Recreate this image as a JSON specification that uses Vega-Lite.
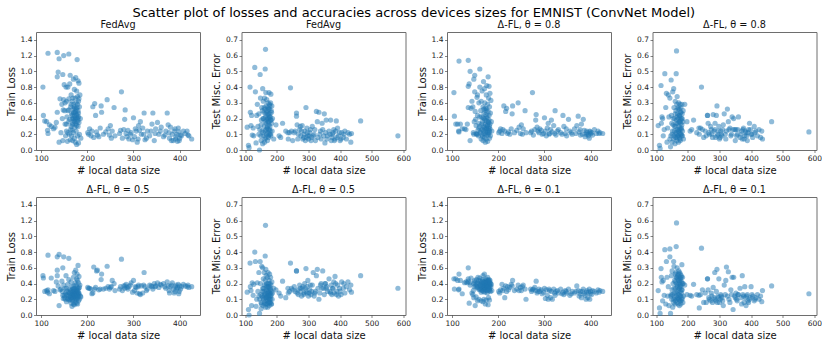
{"$schema":"https://vega.github.io/schema/vega-lite/v6.json","padding":{"left":5,"top":7,"right":0,"bottom":0},"background":"white","title":{"text":"Scatter plot of losses and accuracies across devices sizes for EMNIST (ConvNet Model)","font":"DejaVu Sans","fontSize":13,"fontWeight":"normal","color":"black","anchor":"middle","offset":-1,"frame":"bounds"},"datasets":{"train":[
{"s":104,"F":0.8,"A":0.73,"B":0.5,"C":0.46},{"s":105,"F":0.44,"A":0.43,"B":0.47,"C":0.33},{"s":108,"F":0.37,"A":0.33,"B":0.3,"C":0.46},{"s":112,"F":0.36,"A":0.33,"B":0.31,"C":0.44},{"s":115,"F":1.23,"A":1.13,"B":0.76,"C":0.52},{"s":114,"F":0.25,"A":0.24,"B":0.29,"C":0.32},{"s":115,"F":0.21,"A":0.23,"B":0.32,"C":0.33},{"s":118,"F":0.32,"A":0.33,"B":0.27,"C":0.44},{"s":122,"F":0.3,"A":0.27,"B":0.47,"C":0.27},{"s":127,"F":0.27,"A":0.27,"B":0.31,"C":0.41},{"s":130,"F":0.29,"A":0.26,"B":0.3,"C":0.42},{"s":133,"F":0.35,"A":0.33,"B":0.42,"C":0.41},{"s":135,"F":1.24,"A":1.14,"B":0.74,"C":0.6},{"s":135,"F":0.93,"A":0.81,"B":0.57,"C":0.46},{"s":135,"F":0.48,"A":0.54,"B":0.5,"C":0.43},{"s":137,"F":0.99,"A":0.84,"B":0.37,"C":0.15},{"s":139,"F":1.16,"A":1.0,"B":0.77,"C":0.41},{"s":139,"F":0.1,"A":0.12,"B":0.12,"C":0.38},{"s":141,"F":0.65,"A":0.53,"B":0.32,"C":0.47},{"s":143,"F":0.22,"A":0.62,"B":0.33,"C":0.28},{"s":145,"F":0.58,"A":0.55,"B":0.43,"C":0.26},{"s":147,"F":0.96,"A":0.9,"B":0.6,"C":0.22},{"s":147,"F":0.12,"A":0.2,"B":0.25,"C":0.4},{"s":149,"F":1.2,"A":0.95,"B":0.74,"C":0.44},{"s":149,"F":0.64,"A":0.74,"B":0.38,"C":0.42},{"s":150,"F":0.83,"A":0.49,"B":0.25,"C":0.12},{"s":151,"F":0.5,"A":0.39,"B":0.22,"C":0.37},{"s":152,"F":0.33,"A":0.31,"B":0.2,"C":0.23},{"s":153,"F":0.18,"A":0.2,"B":0.28,"C":0.45},{"s":154,"F":0.8,"A":0.67,"B":0.5,"C":0.35},{"s":155,"F":0.62,"A":0.44,"B":0.34,"C":0.41},{"s":155,"F":0.24,"A":0.7,"B":0.17,"C":0.18},{"s":156,"F":0.42,"A":0.25,"B":0.3,"C":0.48},{"s":157,"F":0.11,"A":0.18,"B":0.25,"C":0.33},{"s":158,"F":0.8,"A":0.6,"B":0.39,"C":0.4},{"s":158,"F":0.5,"A":0.34,"B":0.21,"C":0.2},{"s":160,"F":1.22,"A":1.03,"B":0.72,"C":0.38},{"s":160,"F":0.36,"A":0.3,"B":0.29,"C":0.32},{"s":160,"F":0.65,"A":0.8,"B":0.45,"C":0.47},{"s":161,"F":0.2,"A":0.22,"B":0.19,"C":0.43},{"s":162,"F":0.84,"A":0.5,"B":0.33,"C":0.36},{"s":163,"F":0.95,"A":0.62,"B":0.24,"C":0.29},{"s":163,"F":0.13,"A":0.14,"B":0.2,"C":0.18},{"s":164,"F":0.55,"A":0.42,"B":0.31,"C":0.41},{"s":165,"F":0.3,"A":0.26,"B":0.15,"C":0.35},{"s":165,"F":0.7,"A":0.75,"B":0.42,"C":0.31},{"s":166,"F":0.46,"A":0.36,"B":0.27,"C":0.45},{"s":166,"F":0.18,"A":0.17,"B":0.22,"C":0.39},{"s":167,"F":0.62,"A":0.55,"B":0.36,"C":0.5},{"s":167,"F":0.25,"A":0.12,"B":0.11,"C":0.17},{"s":168,"F":0.4,"A":0.3,"B":0.26,"C":0.34},{"s":168,"F":0.12,"A":0.87,"B":0.18,"C":0.42},{"s":169,"F":0.52,"A":0.47,"B":0.33,"C":0.2},{"s":169,"F":0.34,"A":0.21,"B":0.24,"C":0.37},{"s":170,"F":0.9,"A":0.78,"B":0.48,"C":0.52},{"s":170,"F":0.47,"A":0.4,"B":0.3,"C":0.4},{"s":170,"F":0.22,"A":0.16,"B":0.14,"C":0.33},{"s":171,"F":0.58,"A":0.6,"B":0.37,"C":0.43},{"s":171,"F":0.37,"A":0.27,"B":0.27,"C":0.29},{"s":172,"F":0.77,"A":0.53,"B":0.54,"C":0.38},{"s":172,"F":0.43,"A":0.33,"B":0.23,"C":0.14},{"s":172,"F":0.15,"A":0.1,"B":0.13,"C":0.41},{"s":173,"F":0.53,"A":0.45,"B":0.34,"C":0.36},{"s":173,"F":0.29,"A":0.23,"B":0.19,"C":0.46},{"s":174,"F":0.66,"A":0.7,"B":0.41,"C":0.31},{"s":174,"F":0.39,"A":0.37,"B":0.28,"C":0.39},{"s":174,"F":0.1,"A":0.14,"B":0.16,"C":0.19},{"s":175,"F":0.92,"A":0.82,"B":0.57,"C":0.42},{"s":175,"F":0.49,"A":0.52,"B":0.31,"C":0.35},{"s":175,"F":0.33,"A":0.28,"B":0.22,"C":0.44},{"s":176,"F":0.6,"A":0.41,"B":0.38,"C":0.37},{"s":176,"F":0.24,"A":0.19,"B":0.25,"C":0.28},{"s":177,"F":0.75,"A":0.58,"B":0.46,"C":0.41},{"s":177,"F":0.44,"A":0.32,"B":0.29,"C":0.48},{"s":177,"F":0.07,"A":0.11,"B":0.15,"C":0.34},{"s":178,"F":1.15,"A":0.93,"B":0.52,"C":0.39},{"s":178,"F":0.54,"A":0.49,"B":0.35,"C":0.13},{"s":178,"F":0.36,"A":0.25,"B":0.21,"C":0.43},{"s":179,"F":0.68,"A":0.66,"B":0.44,"C":0.36},{"s":179,"F":0.41,"A":0.35,"B":0.27,"C":0.22},{"s":179,"F":0.18,"A":0.2,"B":0.14,"C":0.4},{"s":180,"F":0.88,"A":0.81,"B":0.63,"C":0.45},{"s":180,"F":0.5,"A":0.38,"B":0.32,"C":0.33},{"s":180,"F":0.3,"A":0.22,"B":0.24,"C":0.38},{"s":181,"F":0.62,"A":0.55,"B":0.41,"C":0.42},{"s":181,"F":0.42,"A":0.3,"B":0.28,"C":0.31},{"s":181,"F":0.09,"A":0.15,"B":0.18,"C":0.19},{"s":182,"F":0.85,"A":0.72,"B":0.49,"C":0.37},{"s":182,"F":0.35,"A":0.27,"B":0.26,"C":0.44},{"s":183,"F":0.55,"A":0.47,"B":0.35,"C":0.4},{"s":183,"F":0.2,"A":0.18,"B":0.2,"C":0.3},{"s":184,"F":0.7,"A":0.63,"B":0.38,"C":0.36},{"s":185,"F":0.4,"A":0.36,"B":0.24,"C":0.39},{"s":186,"F":0.15,"A":0.24,"B":0.23,"C":0.31},
{"s":146,"F":0.4,"A":0.22,"B":0.3,"C":0.31},{"s":148,"F":0.51,"A":0.36,"B":0.21,"C":0.36},{"s":152,"F":0.6,"A":0.21,"B":0.34,"C":0.39},{"s":155,"F":0.33,"A":0.2,"B":0.26,"C":0.36},{"s":158,"F":0.22,"A":0.28,"B":0.2,"C":0.44},{"s":160,"F":0.51,"A":0.42,"B":0.24,"C":0.34},{"s":162,"F":0.39,"A":0.24,"B":0.28,"C":0.38},{"s":164,"F":0.26,"A":0.33,"B":0.22,"C":0.32},{"s":165,"F":0.58,"A":0.19,"B":0.3,"C":0.43},{"s":167,"F":0.44,"A":0.41,"B":0.25,"C":0.37},{"s":168,"F":0.32,"A":0.24,"B":0.2,"C":0.3},{"s":169,"F":0.66,"A":0.52,"B":0.29,"C":0.41},{"s":170,"F":0.4,"A":0.29,"B":0.22,"C":0.36},{"s":171,"F":0.48,"A":0.38,"B":0.33,"C":0.32},{"s":172,"F":0.55,"A":0.2,"B":0.26,"C":0.35},{"s":173,"F":0.36,"A":0.5,"B":0.3,"C":0.41},{"s":174,"F":0.47,"A":0.26,"B":0.24,"C":0.33},{"s":175,"F":0.41,"A":0.43,"B":0.27,"C":0.38},{"s":176,"F":0.52,"A":0.31,"B":0.2,"C":0.42},{"s":177,"F":0.31,"A":0.22,"B":0.32,"C":0.31},{"s":178,"F":0.45,"A":0.36,"B":0.25,"C":0.35},{"s":179,"F":0.58,"A":0.28,"B":0.3,"C":0.44},{"s":180,"F":0.38,"A":0.44,"B":0.23,"C":0.37},{"s":181,"F":0.47,"A":0.24,"B":0.34,"C":0.33},{"s":182,"F":0.65,"A":0.33,"B":0.28,"C":0.41},
{"s":203,"F":0.2,"A":0.24,"B":0.34,"C":0.28},{"s":225,"F":0.17,"A":0.2,"B":0.32,"C":0.35},{"s":240,"F":0.23,"A":0.25,"B":0.34,"C":0.33},{"s":252,"F":0.15,"A":0.2,"B":0.36,"C":0.36},{"s":270,"F":0.21,"A":0.22,"B":0.33,"C":0.33},{"s":279,"F":0.26,"A":0.26,"B":0.37,"C":0.35},{"s":286,"F":0.17,"A":0.24,"B":0.35,"C":0.3},{"s":293,"F":0.2,"A":0.25,"B":0.38,"C":0.32},{"s":298,"F":0.13,"A":0.21,"B":0.29,"C":0.29},{"s":306,"F":0.24,"A":0.28,"B":0.35,"C":0.25},{"s":310,"F":0.14,"A":0.2,"B":0.36,"C":0.33},{"s":313,"F":0.25,"A":0.26,"B":0.27,"C":0.22},{"s":322,"F":0.2,"A":0.21,"B":0.38,"C":0.28},{"s":328,"F":0.15,"A":0.24,"B":0.31,"C":0.31},{"s":338,"F":0.24,"A":0.2,"B":0.37,"C":0.27},{"s":347,"F":0.21,"A":0.27,"B":0.36,"C":0.3},{"s":358,"F":0.24,"A":0.22,"B":0.39,"C":0.27},{"s":368,"F":0.19,"A":0.21,"B":0.36,"C":0.3},{"s":377,"F":0.22,"A":0.26,"B":0.31,"C":0.27},{"s":382,"F":0.12,"A":0.2,"B":0.38,"C":0.3},{"s":388,"F":0.24,"A":0.17,"B":0.28,"C":0.25},{"s":391,"F":0.14,"A":0.24,"B":0.36,"C":0.29},{"s":394,"F":0.2,"A":0.2,"B":0.33,"C":0.22},{"s":397,"F":0.28,"A":0.15,"B":0.39,"C":0.33},{"s":399,"F":0.12,"A":0.23,"B":0.3,"C":0.27},{"s":404,"F":0.18,"A":0.19,"B":0.36,"C":0.31},
{"s":201,"F":0.22,"A":0.22,"B":0.35,"C":0.3},{"s":205,"F":0.27,"A":0.27,"B":0.34,"C":0.32},{"s":208,"F":0.18,"A":0.21,"B":0.33,"C":0.39},{"s":210,"F":0.24,"A":0.26,"B":0.27,"C":0.31},{"s":212,"F":0.55,"A":0.56,"B":0.28,"C":0.34},{"s":214,"F":0.16,"A":0.24,"B":0.61,"C":0.22},{"s":216,"F":0.59,"A":0.49,"B":0.33,"C":0.37},{"s":218,"F":0.44,"A":0.53,"B":0.35,"C":0.3},{"s":220,"F":0.23,"A":0.21,"B":0.56,"C":0.36},{"s":222,"F":0.19,"A":0.23,"B":0.57,"C":0.32},{"s":228,"F":0.28,"A":0.27,"B":0.33,"C":0.39},{"s":230,"F":0.56,"A":0.46,"B":0.45,"C":0.37},{"s":231,"F":0.48,"A":0.56,"B":0.52,"C":0.44},{"s":235,"F":0.2,"A":0.22,"B":0.33,"C":0.31},{"s":243,"F":0.64,"A":0.6,"B":0.62,"C":0.38},{"s":245,"F":0.27,"A":0.29,"B":0.36,"C":0.31},{"s":248,"F":0.19,"A":0.21,"B":0.33,"C":0.35},{"s":250,"F":0.31,"A":0.32,"B":0.35,"C":0.31},{"s":254,"F":0.24,"A":0.27,"B":0.44,"C":0.38},{"s":258,"F":0.54,"A":0.5,"B":0.4,"C":0.33},{"s":260,"F":0.18,"A":0.22,"B":0.31,"C":0.2},{"s":274,"F":0.74,"A":0.73,"B":0.71,"C":0.32},{"s":272,"F":0.25,"A":0.24,"B":0.36,"C":0.3},{"s":276,"F":0.15,"A":0.19,"B":0.31,"C":0.33},{"s":281,"F":0.39,"A":0.38,"B":0.34,"C":0.31},{"s":282,"F":0.51,"A":0.45,"B":0.37,"C":0.43},{"s":284,"F":0.21,"A":0.29,"B":0.39,"C":0.28},{"s":288,"F":0.25,"A":0.22,"B":0.33,"C":0.33},{"s":290,"F":0.14,"A":0.27,"B":0.36,"C":0.3},{"s":295,"F":0.22,"A":0.2,"B":0.41,"C":0.27},{"s":300,"F":0.41,"A":0.41,"B":0.44,"C":0.34},{"s":302,"F":0.17,"A":0.24,"B":0.31,"C":0.21},{"s":304,"F":0.27,"A":0.18,"B":0.36,"C":0.32},{"s":308,"F":0.1,"A":0.34,"B":0.28,"C":0.2},{"s":311,"F":0.31,"A":0.21,"B":0.38,"C":0.31},{"s":315,"F":0.36,"A":0.38,"B":0.26,"C":0.3},{"s":317,"F":0.2,"A":0.23,"B":0.37,"C":0.2},{"s":320,"F":0.28,"A":0.31,"B":0.28,"C":0.33},{"s":323,"F":0.47,"A":0.5,"B":0.54,"C":0.25},{"s":325,"F":0.13,"A":0.19,"B":0.36,"C":0.3},{"s":330,"F":0.24,"A":0.26,"B":0.33,"C":0.28},{"s":335,"F":0.18,"A":0.22,"B":0.38,"C":0.33},{"s":340,"F":0.33,"A":0.44,"B":0.36,"C":0.29},{"s":342,"F":0.47,"A":0.3,"B":0.33,"C":0.26},{"s":345,"F":0.12,"A":0.21,"B":0.4,"C":0.31},{"s":348,"F":0.27,"A":0.18,"B":0.37,"C":0.28},{"s":352,"F":0.35,"A":0.39,"B":0.41,"C":0.33},{"s":355,"F":0.2,"A":0.24,"B":0.35,"C":0.25},{"s":360,"F":0.29,"A":0.2,"B":0.38,"C":0.3},{"s":365,"F":0.17,"A":0.27,"B":0.4,"C":0.28},{"s":370,"F":0.24,"A":0.31,"B":0.34,"C":0.37},{"s":373,"F":0.47,"A":0.43,"B":0.42,"C":0.31},{"s":375,"F":0.32,"A":0.23,"B":0.37,"C":0.24},{"s":378,"F":0.15,"A":0.19,"B":0.28,"C":0.3},{"s":380,"F":0.29,"A":0.33,"B":0.36,"C":0.22},{"s":384,"F":0.2,"A":0.39,"B":0.41,"C":0.33},{"s":386,"F":0.12,"A":0.25,"B":0.33,"C":0.27},{"s":390,"F":0.27,"A":0.2,"B":0.3,"C":0.2},{"s":392,"F":0.17,"A":0.22,"B":0.38,"C":0.31},{"s":395,"F":0.11,"A":0.18,"B":0.35,"C":0.29},{"s":398,"F":0.23,"A":0.24,"B":0.27,"C":0.2},{"s":400,"F":0.15,"A":0.21,"B":0.37,"C":0.3},{"s":402,"F":0.19,"A":0.22,"B":0.33,"C":0.26},{"s":408,"F":0.24,"A":0.26,"B":0.39,"C":0.3},{"s":412,"F":0.21,"A":0.21,"B":0.37,"C":0.28},{"s":416,"F":0.24,"A":0.24,"B":0.36,"C":0.32},{"s":418,"F":0.19,"A":0.21,"B":0.38,"C":0.29},{"s":420,"F":0.18,"A":0.22,"B":0.35,"C":0.31},{"s":426,"F":0.14,"A":0.21,"B":0.36,"C":0.3}
],"test":[
{"s":106,"F":0.145,"A":0.155,"B":0.145,"C":0.155},{"s":110,"F":0.03,"A":0.03,"B":0.035,"C":0.045},{"s":112,"F":0.015,"A":0.01,"B":0.0,"C":0.01},{"s":115,"F":0.4,"A":0.41,"B":0.33,"C":0.295},{"s":116,"F":0.24,"A":0.17,"B":0.18,"C":0.24},{"s":118,"F":0.155,"A":0.21,"B":0.155,"C":0.21},{"s":120,"F":0.22,"A":0.2,"B":0.06,"C":0.09},{"s":122,"F":0.095,"A":0.09,"B":0.205,"C":0.22},{"s":125,"F":0.14,"A":0.13,"B":0.125,"C":0.125},{"s":127,"F":0.09,"A":0.485,"B":0.195,"C":0.415},{"s":130,"F":0.525,"A":0.27,"B":0.4,"C":0.07},{"s":132,"F":0.37,"A":0.36,"B":0.34,"C":0.34},{"s":134,"F":0.045,"A":0.05,"B":0.055,"C":0.24},{"s":136,"F":0.22,"A":0.14,"B":0.1,"C":0.12},{"s":138,"F":0.29,"A":0.35,"B":0.205,"C":0.18},{"s":140,"F":0.15,"A":0.21,"B":0.15,"C":0.06},{"s":143,"F":0.1,"A":0.07,"B":0.27,"C":0.42},{"s":143,"F":0.23,"A":0.33,"B":0.12,"C":0.37},{"s":145,"F":0.0,"A":0.02,"B":0.01,"C":0.01},{"s":147,"F":0.48,"A":0.445,"B":0.34,"C":0.13},{"s":148,"F":0.33,"A":0.22,"B":0.2,"C":0.25},{"s":150,"F":0.16,"A":0.1,"B":0.08,"C":0.16},{"s":150,"F":0.06,"A":0.05,"B":0.04,"C":0.28},{"s":152,"F":0.27,"A":0.37,"B":0.31,"C":0.05},{"s":153,"F":0.12,"A":0.16,"B":0.12,"C":0.2},{"s":155,"F":0.39,"A":0.39,"B":0.3,"C":0.34},{"s":155,"F":0.04,"A":0.07,"B":0.17,"C":0.1},{"s":156,"F":0.2,"A":0.27,"B":0.06,"C":0.31},{"s":157,"F":0.31,"A":0.12,"B":0.23,"C":0.14},{"s":158,"F":0.09,"A":0.2,"B":0.1,"C":0.22},{"s":159,"F":0.24,"A":0.04,"B":0.15,"C":0.07},{"s":160,"F":0.15,"A":0.31,"B":0.27,"C":0.26},{"s":161,"F":0.33,"A":0.15,"B":0.19,"C":0.17},{"s":161,"F":0.05,"A":0.08,"B":0.08,"C":0.09},{"s":162,"F":0.26,"A":0.25,"B":0.13,"C":0.27},{"s":163,"F":0.515,"A":0.485,"B":0.375,"C":0.435},{"s":163,"F":0.12,"A":0.11,"B":0.22,"C":0.12},{"s":164,"F":0.64,"A":0.63,"B":0.57,"C":0.585},{"s":164,"F":0.21,"A":0.19,"B":0.05,"C":0.2},{"s":165,"F":0.365,"A":0.29,"B":0.29,"C":0.24},{"s":165,"F":0.08,"A":0.06,"B":0.11,"C":0.08},{"s":166,"F":0.28,"A":0.34,"B":0.16,"C":0.15},{"s":166,"F":0.17,"A":0.13,"B":0.25,"C":0.3},{"s":167,"F":0.1,"A":0.23,"B":0.07,"C":0.19},{"s":168,"F":0.24,"A":0.09,"B":0.2,"C":0.11},{"s":168,"F":0.32,"A":0.17,"B":0.12,"C":0.25},{"s":169,"F":0.14,"A":0.27,"B":0.18,"C":0.07},{"s":170,"F":0.2,"A":0.05,"B":0.09,"C":0.22},{"s":170,"F":0.06,"A":0.2,"B":0.24,"C":0.16},{"s":171,"F":0.27,"A":0.12,"B":0.14,"C":0.28},{"s":171,"F":0.11,"A":0.3,"B":0.05,"C":0.1},{"s":172,"F":0.18,"A":0.15,"B":0.17,"C":0.2},{"s":172,"F":0.3,"A":0.22,"B":0.27,"C":0.13},{"s":173,"F":0.23,"A":0.08,"B":0.11,"C":0.24},{"s":173,"F":0.13,"A":0.26,"B":0.2,"C":0.06},{"s":174,"F":0.08,"A":0.18,"B":0.08,"C":0.18},{"s":174,"F":0.2,"A":0.11,"B":0.15,"C":0.27},{"s":175,"F":0.365,"A":0.29,"B":0.22,"C":0.09},{"s":175,"F":0.16,"A":0.21,"B":0.13,"C":0.21},{"s":176,"F":0.26,"A":0.06,"B":0.06,"C":0.15},{"s":176,"F":0.1,"A":0.14,"B":0.18,"C":0.26},{"s":177,"F":0.21,"A":0.24,"B":0.1,"C":0.12},{"s":177,"F":0.29,"A":0.1,"B":0.26,"C":0.23},{"s":178,"F":0.15,"A":0.19,"B":0.14,"C":0.07},{"s":178,"F":0.23,"A":0.27,"B":0.2,"C":0.18},{"s":179,"F":0.12,"A":0.13,"B":0.08,"C":0.25},{"s":180,"F":0.3,"A":0.2,"B":0.16,"C":0.14},{"s":180,"F":0.19,"A":0.09,"B":0.24,"C":0.21},{"s":181,"F":0.355,"A":0.29,"B":0.12,"C":0.1},{"s":181,"F":0.09,"A":0.16,"B":0.19,"C":0.32},{"s":182,"F":0.25,"A":0.23,"B":0.07,"C":0.16},{"s":183,"F":0.17,"A":0.12,"B":0.15,"C":0.24},{"s":184,"F":0.28,"A":0.18,"B":0.21,"C":0.08},{"s":185,"F":0.12,"A":0.25,"B":0.1,"C":0.2},{"s":186,"F":0.2,"A":0.07,"B":0.14,"C":0.12},{"s":190,"F":0.07,"A":0.29,"B":0.17,"C":0.19},
{"s":146,"F":0.13,"A":0.09,"B":0.1,"C":0.12},{"s":149,"F":0.09,"A":0.17,"B":0.13,"C":0.1},{"s":151,"F":0.19,"A":0.12,"B":0.07,"C":0.13},{"s":154,"F":0.25,"A":0.2,"B":0.15,"C":0.08},{"s":156,"F":0.11,"A":0.09,"B":0.11,"C":0.17},{"s":158,"F":0.2,"A":0.15,"B":0.17,"C":0.11},{"s":160,"F":0.27,"A":0.23,"B":0.12,"C":0.21},{"s":162,"F":0.07,"A":0.1,"B":0.07,"C":0.14},{"s":163,"F":0.18,"A":0.17,"B":0.14,"C":0.24},{"s":165,"F":0.23,"A":0.08,"B":0.09,"C":0.1},{"s":166,"F":0.13,"A":0.21,"B":0.19,"C":0.18},{"s":168,"F":0.19,"A":0.12,"B":0.11,"C":0.23},{"s":169,"F":0.25,"A":0.26,"B":0.15,"C":0.13},{"s":170,"F":0.15,"A":0.09,"B":0.07,"C":0.26},{"s":172,"F":0.22,"A":0.18,"B":0.12,"C":0.1},{"s":173,"F":0.09,"A":0.13,"B":0.18,"C":0.17},{"s":174,"F":0.26,"A":0.22,"B":0.1,"C":0.22},{"s":175,"F":0.18,"A":0.07,"B":0.14,"C":0.12},{"s":177,"F":0.13,"A":0.17,"B":0.08,"C":0.19},{"s":178,"F":0.28,"A":0.24,"B":0.12,"C":0.09},{"s":179,"F":0.21,"A":0.1,"B":0.17,"C":0.24},{"s":180,"F":0.1,"A":0.14,"B":0.1,"C":0.16},{"s":182,"F":0.19,"A":0.2,"B":0.13,"C":0.11},{"s":183,"F":0.24,"A":0.09,"B":0.07,"C":0.2},
{"s":240,"F":0.11,"A":0.14,"B":0.15,"C":0.13},{"s":258,"F":0.12,"A":0.09,"B":0.15,"C":0.08},{"s":268,"F":0.1,"A":0.1,"B":0.13,"C":0.1},{"s":274,"F":0.15,"A":0.13,"B":0.17,"C":0.14},{"s":278,"F":0.12,"A":0.08,"B":0.12,"C":0.08},{"s":282,"F":0.07,"A":0.12,"B":0.18,"C":0.11},{"s":286,"F":0.1,"A":0.17,"B":0.14,"C":0.1},{"s":293,"F":0.08,"A":0.09,"B":0.15,"C":0.08},{"s":296,"F":0.11,"A":0.12,"B":0.18,"C":0.11},{"s":302,"F":0.09,"A":0.08,"B":0.14,"C":0.1},{"s":306,"F":0.13,"A":0.1,"B":0.19,"C":0.12},{"s":310,"F":0.08,"A":0.13,"B":0.15,"C":0.09},{"s":318,"F":0.1,"A":0.1,"B":0.12,"C":0.13},{"s":330,"F":0.08,"A":0.13,"B":0.17,"C":0.1},{"s":338,"F":0.12,"A":0.1,"B":0.19,"C":0.13},{"s":348,"F":0.09,"A":0.13,"B":0.17,"C":0.12},{"s":354,"F":0.11,"A":0.09,"B":0.2,"C":0.1},{"s":358,"F":0.07,"A":0.13,"B":0.18,"C":0.13},{"s":368,"F":0.1,"A":0.1,"B":0.15,"C":0.11},{"s":374,"F":0.08,"A":0.13,"B":0.13,"C":0.13},{"s":378,"F":0.11,"A":0.07,"B":0.17,"C":0.08},{"s":382,"F":0.06,"A":0.12,"B":0.14,"C":0.11},{"s":386,"F":0.12,"A":0.09,"B":0.2,"C":0.12},{"s":390,"F":0.08,"A":0.11,"B":0.15,"C":0.09},{"s":398,"F":0.11,"A":0.13,"B":0.17,"C":0.11},{"s":403,"F":0.07,"A":0.1,"B":0.13,"C":0.13},{"s":412,"F":0.1,"A":0.11,"B":0.2,"C":0.1},
{"s":197,"F":0.16,"A":0.18,"B":0.16,"C":0.13},{"s":207,"F":0.09,"A":0.12,"B":0.14,"C":0.125},{"s":212,"F":0.08,"A":0.13,"B":0.12,"C":0.12},{"s":218,"F":0.17,"A":0.19,"B":0.215,"C":0.195},{"s":228,"F":0.12,"A":0.11,"B":0.11,"C":0.13},{"s":235,"F":0.11,"A":0.14,"B":0.17,"C":0.125},{"s":236,"F":0.07,"A":0.1,"B":0.14,"C":0.045},{"s":243,"F":0.395,"A":0.4,"B":0.33,"C":0.425},{"s":246,"F":0.12,"A":0.13,"B":0.17,"C":0.16},{"s":250,"F":0.06,"A":0.08,"B":0.16,"C":0.08},{"s":255,"F":0.11,"A":0.12,"B":0.18,"C":0.14},{"s":262,"F":0.235,"A":0.22,"B":0.28,"C":0.23},{"s":262,"F":0.215,"A":0.22,"B":0.28,"C":0.23},{"s":264,"F":0.16,"A":0.17,"B":0.14,"C":0.16},{"s":266,"F":0.07,"A":0.11,"B":0.16,"C":0.11},{"s":272,"F":0.13,"A":0.15,"B":0.19,"C":0.09},{"s":276,"F":0.09,"A":0.1,"B":0.15,"C":0.12},{"s":280,"F":0.155,"A":0.225,"B":0.17,"C":0.175},{"s":285,"F":0.08,"A":0.13,"B":0.13,"C":0.27},{"s":288,"F":0.12,"A":0.08,"B":0.2,"C":0.09},{"s":290,"F":0.06,"A":0.22,"B":0.17,"C":0.15},{"s":292,"F":0.27,"A":0.28,"B":0.295,"C":0.29},{"s":295,"F":0.14,"A":0.1,"B":0.14,"C":0.12},{"s":298,"F":0.09,"A":0.15,"B":0.22,"C":0.23},{"s":300,"F":0.07,"A":0.07,"B":0.12,"C":0.08},{"s":304,"F":0.11,"A":0.12,"B":0.16,"C":0.13},{"s":308,"F":0.06,"A":0.09,"B":0.13,"C":0.11},{"s":312,"F":0.15,"A":0.16,"B":0.19,"C":0.06},{"s":315,"F":0.09,"A":0.23,"B":0.27,"C":0.19},{"s":320,"F":0.13,"A":0.07,"B":0.14,"C":0.22},{"s":322,"F":0.06,"A":0.12,"B":0.15,"C":0.305},{"s":325,"F":0.245,"A":0.26,"B":0.25,"C":0.12},{"s":328,"F":0.18,"A":0.18,"B":0.29,"C":0.275},{"s":333,"F":0.24,"A":0.14,"B":0.1,"C":0.08},{"s":336,"F":0.1,"A":0.09,"B":0.14,"C":0.16},{"s":340,"F":0.07,"A":0.21,"B":0.2,"C":0.24},{"s":343,"F":0.17,"A":0.13,"B":0.17,"C":0.035},{"s":345,"F":0.13,"A":0.2,"B":0.28,"C":0.24},{"s":350,"F":0.23,"A":0.06,"B":0.13,"C":0.11},{"s":352,"F":0.045,"A":0.13,"B":0.2,"C":0.14},{"s":356,"F":0.19,"A":0.1,"B":0.17,"C":0.09},{"s":360,"F":0.09,"A":0.21,"B":0.15,"C":0.13},{"s":365,"F":0.12,"A":0.08,"B":0.23,"C":0.17},{"s":370,"F":0.19,"A":0.12,"B":0.14,"C":0.07},{"s":372,"F":0.06,"A":0.07,"B":0.19,"C":0.25},{"s":376,"F":0.1,"A":0.14,"B":0.17,"C":0.12},{"s":380,"F":0.13,"A":0.09,"B":0.21,"C":0.18},{"s":384,"F":0.07,"A":0.11,"B":0.245,"C":0.06},{"s":388,"F":0.185,"A":0.06,"B":0.13,"C":0.13},{"s":392,"F":0.14,"A":0.13,"B":0.19,"C":0.08},{"s":395,"F":0.09,"A":0.17,"B":0.12,"C":0.1},{"s":400,"F":0.06,"A":0.1,"B":0.15,"C":0.18},{"s":405,"F":0.11,"A":0.08,"B":0.21,"C":0.12},{"s":410,"F":0.08,"A":0.15,"B":0.17,"C":0.09},{"s":415,"F":0.12,"A":0.12,"B":0.14,"C":0.11},{"s":420,"F":0.07,"A":0.09,"B":0.18,"C":0.13},{"s":425,"F":0.11,"A":0.13,"B":0.21,"C":0.1},{"s":430,"F":0.1,"A":0.08,"B":0.16,"C":0.12},{"s":434,"F":0.05,"A":0.12,"B":0.19,"C":0.085},{"s":436,"F":0.105,"A":0.07,"B":0.145,"C":0.155},{"s":465,"F":0.185,"A":0.18,"B":0.25,"C":0.185},{"s":583,"F":0.09,"A":0.115,"B":0.17,"C":0.135}
]},"columns":4,"spacing":{"column":41.5,"row":47},"bounds":"flush","resolve":{"scale":{"x":"independent","y":"independent"}},"config":{"font":"DejaVu Sans","view":{"stroke":"#6e6e6e","strokeWidth":1},"axis":{"grid":false,"domain":false,"tickColor":"#333333","tickSize":2.5,"tickWidth":0.6,"labelFont":"DejaVu Sans","labelFontSize":7.5,"labelColor":"#222222","titleFont":"DejaVu Sans","titleFontSize":10,"titleFontWeight":"normal","titleColor":"#111111","labelPadding":1.5,"titlePadding":4},"title":{"font":"DejaVu Sans","fontSize":9.7,"fontWeight":"normal","color":"#111111","offset":2.5},"point":{"filled":true,"color":"#1f77b4","opacity":0.5,"size":27,"strokeWidth":0,"clip":true}},"concat":[
{"title":"FedAvg","width":164,"height":118,"data":{"name":"train"},"mark":{"type":"point"},"encoding":{"x":{"field":"s","type":"quantitative","scale":{"domain":[89,444]},"axis":{"title":"# local data size","values":[100,200,300,400]}},"y":{"field":"F","type":"quantitative","scale":{"domain":[0,1.5]},"axis":{"title":"Train Loss","values":[0,0.2,0.4,0.6,0.8,1.0,1.2,1.4],"format":".1f"}}}},
{"title":"FedAvg","width":164,"height":118,"data":{"name":"test"},"mark":{"type":"point"},"encoding":{"x":{"field":"s","type":"quantitative","scale":{"domain":[88,607]},"axis":{"title":"# local data size","values":[100,200,300,400,500,600]}},"y":{"field":"F","type":"quantitative","scale":{"domain":[0,0.75]},"axis":{"title":"Test Misc. Error","values":[0,0.1,0.2,0.3,0.4,0.5,0.6,0.7],"format":".1f"}}}},
{"title":"Δ-FL, θ = 0.8","width":164,"height":118,"data":{"name":"train"},"mark":{"type":"point"},"encoding":{"x":{"field":"s","type":"quantitative","scale":{"domain":[89,444]},"axis":{"title":"# local data size","values":[100,200,300,400]}},"y":{"field":"A","type":"quantitative","scale":{"domain":[0,1.5]},"axis":{"title":"Train Loss","values":[0,0.2,0.4,0.6,0.8,1.0,1.2,1.4],"format":".1f"}}}},
{"title":"Δ-FL, θ = 0.8","width":164,"height":118,"data":{"name":"test"},"mark":{"type":"point"},"encoding":{"x":{"field":"s","type":"quantitative","scale":{"domain":[88,607]},"axis":{"title":"# local data size","values":[100,200,300,400,500,600]}},"y":{"field":"A","type":"quantitative","scale":{"domain":[0,0.75]},"axis":{"title":"Test Misc. Error","values":[0,0.1,0.2,0.3,0.4,0.5,0.6,0.7],"format":".1f"}}}},
{"title":"Δ-FL, θ = 0.5","width":164,"height":118,"data":{"name":"train"},"mark":{"type":"point"},"encoding":{"x":{"field":"s","type":"quantitative","scale":{"domain":[89,444]},"axis":{"title":"# local data size","values":[100,200,300,400]}},"y":{"field":"B","type":"quantitative","scale":{"domain":[0,1.5]},"axis":{"title":"Train Loss","values":[0,0.2,0.4,0.6,0.8,1.0,1.2,1.4],"format":".1f"}}}},
{"title":"Δ-FL, θ = 0.5","width":164,"height":118,"data":{"name":"test"},"mark":{"type":"point"},"encoding":{"x":{"field":"s","type":"quantitative","scale":{"domain":[88,607]},"axis":{"title":"# local data size","values":[100,200,300,400,500,600]}},"y":{"field":"B","type":"quantitative","scale":{"domain":[0,0.75]},"axis":{"title":"Test Misc. Error","values":[0,0.1,0.2,0.3,0.4,0.5,0.6,0.7],"format":".1f"}}}},
{"title":"Δ-FL, θ = 0.1","width":164,"height":118,"data":{"name":"train"},"mark":{"type":"point"},"encoding":{"x":{"field":"s","type":"quantitative","scale":{"domain":[89,444]},"axis":{"title":"# local data size","values":[100,200,300,400]}},"y":{"field":"C","type":"quantitative","scale":{"domain":[0,1.5]},"axis":{"title":"Train Loss","values":[0,0.2,0.4,0.6,0.8,1.0,1.2,1.4],"format":".1f"}}}},
{"title":"Δ-FL, θ = 0.1","width":164,"height":118,"data":{"name":"test"},"mark":{"type":"point"},"encoding":{"x":{"field":"s","type":"quantitative","scale":{"domain":[88,607]},"axis":{"title":"# local data size","values":[100,200,300,400,500,600]}},"y":{"field":"C","type":"quantitative","scale":{"domain":[0,0.75]},"axis":{"title":"Test Misc. Error","values":[0,0.1,0.2,0.3,0.4,0.5,0.6,0.7],"format":".1f"}}}}
]}
